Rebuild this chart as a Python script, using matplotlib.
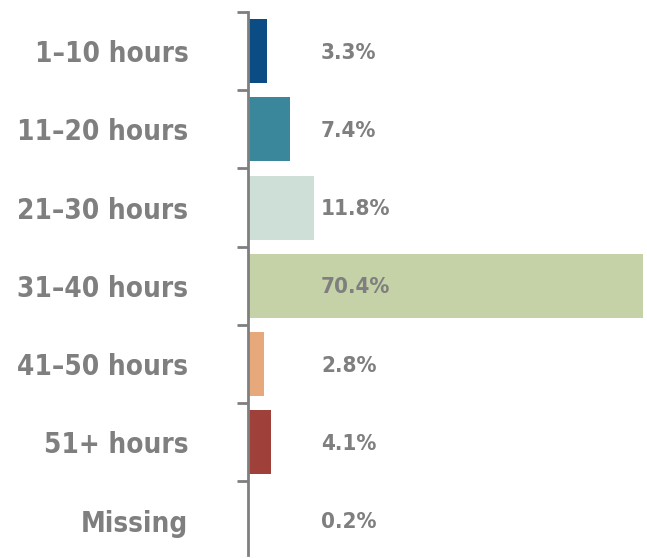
import matplotlib.pyplot as plt

categories = ['1–10 hours', '11–20 hours', '21–30 hours', '31–40 hours',
              '41–50 hours', '51+ hours', 'Missing']
shares = [3.3, 7.4, 11.8, 70.4, 2.8, 4.1, 0.2]
colors = ['#0b4c84', '#3a869b', '#cddfd7', '#c5d1a6', '#e7a97b', '#a0403a', '#5a6a8a']

plt.rcParams['font.family'] = ['DejaVu Sans']
gray = '#7f7f7f'

fig = plt.figure(figsize=(6.47, 5.58), dpi=100)
ax = fig.add_axes([248 / 647, 3 / 558, (643 - 248) / 647, 543 / 558])

y = list(range(len(categories)))
ax.barh(y, shares, height=0.82, color=colors)

for yi, v in zip(y, shares):
    ax.text(13, yi + 0.02, f'{v}%', ha='left', va='center', fontsize=16,
            fontweight='bold', fontstretch='condensed', color=gray)

ax.set_xlim(0, 70.4)
ax.set_ylim(6.44, -0.5)

# boundary ticks on the left, labels centred on the bars
ax.set_yticks([i - 0.5 for i in y])
ax.set_yticklabels([])
ax.set_yticks(y, minor=True)
ax.set_yticklabels(categories, minor=True, fontsize=20, color=gray,
                   fontweight='bold', fontstretch='condensed')
ax.tick_params(axis='y', which='major', length=8, width=2, color=gray, direction='out')
ax.tick_params(axis='y', which='minor', length=0, pad=43)

ax.set_xticks([])
for s in ['top', 'right', 'bottom']:
    ax.spines[s].set_visible(False)
ax.spines['left'].set_color(gray)
ax.spines['left'].set_linewidth(2)

fig.savefig('out.png', dpi=100)
